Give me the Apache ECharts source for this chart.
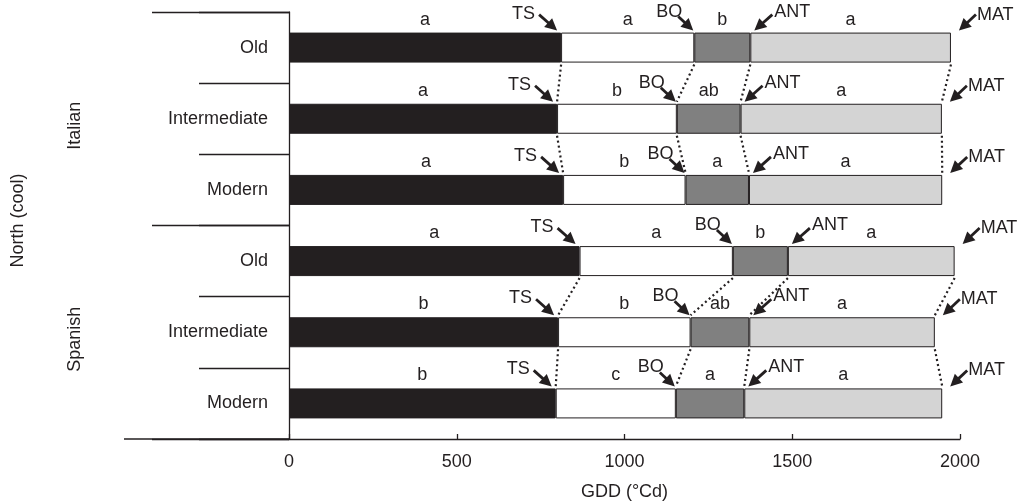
<!DOCTYPE html>
<html>
<head>
<meta charset="utf-8">
<script src="https://cdn.jsdelivr.net/npm/echarts@6/dist/echarts.min.js"></script>
<style>
html,body{margin:0;padding:0;background:#fff;}
#chart{width:1027px;height:501px;}
</style>
</head>
<body>
<div id="chart"></div>
<script>
// ---- data ----
const categories = ['Old', 'Intermediate', 'Modern', 'Old', 'Intermediate', 'Modern'];
const groups = ['Italian', 'Spanish'];
const region = 'North (cool)';
// cumulative GDD (°Cd) at each phenological stage
const tsGDD  = [811, 799, 817, 866, 802, 795];
const boGDD  = [1208, 1156, 1182, 1323, 1197, 1153];
const antGDD = [1375, 1346, 1371, 1487, 1372, 1357];
const matGDD = [1973, 1946, 1947, 1984, 1925, 1947];
// significance letters for each phase
const lettersSowTS  = ['a', 'a', 'a', 'a', 'b', 'b'];
const lettersTSBO   = ['a', 'b', 'b', 'a', 'b', 'c'];
const lettersBOANT  = ['b', 'ab', 'a', 'b', 'ab', 'a'];
const lettersANTMAT = ['a', 'a', 'a', 'a', 'a', 'a'];
const stageNames = ['TS', 'BO', 'ANT', 'MAT'];
const xMin = 0, xMax = 2000, xInterval = 500;

// ---- derived ----
const seg1 = tsGDD.slice();
const seg2 = boGDD.map((v, i) => v - tsGDD[i]);
const seg3 = antGDD.map((v, i) => v - boGDD[i]);
const seg4 = matGDD.map((v, i) => v - antGDD[i]);
const stages = [tsGDD, boGDD, antGDD, matGDD];

const FONT = '"Liberation Sans", Arial, Helvetica, sans-serif';
const INK = '#231f20';
const BAR_W = 30;
const FS = 18;

const chart = echarts.init(document.getElementById('chart'), null, {renderer: 'canvas'});

function letterLabel(arr) {
  return {
    show: true, position: 'top', distance: 4,
    formatter: p => arr[p.dataIndex],
    color: INK, fontSize: FS, fontFamily: FONT
  };
}
function barSeries(name, data, color, letters) {
  return {
    name: name, type: 'bar', stack: 'gdd', barWidth: BAR_W,
    data: data,
    itemStyle: {color: color, borderColor: INK, borderWidth: 1},
    label: letterLabel(letters),
    silent: true, animation: false
  };
}

function arrow(tail, tip) {
  const dx = tip[0] - tail[0], dy = tip[1] - tail[1];
  const len = Math.sqrt(dx * dx + dy * dy);
  const ux = dx / len, uy = dy / len;
  const hl = 12, hw = 6;
  const bx = tip[0] - ux * hl, by = tip[1] - uy * hl;
  const nx = -uy, ny = ux;
  return [
    {type: 'line', shape: {x1: tail[0], y1: tail[1], x2: bx + ux, y2: by + uy},
     style: {stroke: INK, lineWidth: 2.8}},
    {type: 'polygon', shape: {points: [tip, [bx + nx * hw, by + ny * hw], [bx - nx * hw, by - ny * hw]]},
     style: {fill: INK}}
  ];
}

function txt(text, x, y, align) {
  return {type: 'text', style: {text: text, x: x, y: y, align: align, verticalAlign: 'middle',
    fontSize: FS, fontFamily: FONT, fill: INK}};
}

function renderAnnot(params, api) {
  const i = api.value(0);
  const children = [];
  for (let s = 0; s < 4; s++) {
    const p = api.coord([stages[s][i], i]);
    const bx = p[0], top = p[1] - BAR_W / 2, bot = p[1] + BAR_W / 2;
    if (s === 0) {
      children.push(...arrow([bx - 22, top - 18], [bx - 4, top - 2]));
      children.push(txt(stageNames[s], bx - 26, top - 19, 'right'));
    } else if (s === 1) {
      children.push(...arrow([bx - 16, top - 16], [bx - 1, top - 2]));
      children.push(txt(stageNames[s], bx - 12, top - 21, 'right'));
    } else if (s === 2) {
      children.push(...arrow([bx + 22, top - 18], [bx + 4, top - 2]));
      children.push(txt(stageNames[s], bx + 24, top - 21, 'left'));
    } else {
      children.push(...arrow([bx + 25, top - 18], [bx + 8, top - 2]));
      children.push(txt(stageNames[s], bx + 26, top - 18, 'left'));
    }
    // dotted connector to next row in same group
    if (i !== 2 && i < categories.length - 1) {
      const q = api.coord([stages[s][i + 1], i + 1]);
      children.push({type: 'line',
        shape: {x1: bx, y1: bot + 2, x2: q[0], y2: q[1] - BAR_W / 2 - 2},
        style: {stroke: INK, lineWidth: 2.2, lineDash: [2, 3]}});
    }
  }
  return {type: 'group', children: children};
}

const option = {
  animation: false,
  textStyle: {fontFamily: FONT, color: INK},
  grid: {left: 289, right: 67, top: 12, bottom: 62, containLabel: false, outerBoundsMode: 'none'},
  xAxis: {
    type: 'value', min: xMin, max: xMax, interval: xInterval,
    name: 'GDD (°Cd)', nameLocation: 'middle', nameGap: 44,
    nameTextStyle: {fontSize: FS, color: INK, fontFamily: FONT},
    axisLine: {show: true, lineStyle: {color: INK, width: 1.3}},
    axisTick: {show: true, inside: true, length: 5, lineStyle: {color: INK, width: 1.3}},
    axisLabel: {fontSize: FS, color: INK, margin: 14, fontFamily: FONT, formatter: v => String(v)},
    splitLine: {show: false}
  },
  yAxis: [
    {
      type: 'category', inverse: true, data: categories, position: 'left',
      axisLine: {show: true, lineStyle: {color: INK, width: 1.3}},
      axisTick: {show: true, length: 90, lineStyle: {color: INK, width: 1.3}},
      axisLabel: {fontSize: FS, color: INK, margin: 21, fontFamily: FONT},
      splitLine: {show: false}
    },
    {
      type: 'category', inverse: true, data: groups, position: 'left',
      name: region, nameLocation: 'middle', nameGap: 262, nameRotate: 90,
      nameTextStyle: {fontSize: FS, color: INK, fontFamily: FONT, padding: [0, 0, 0, 10]},
      axisLine: {show: false},
      axisTick: {show: true, length: 137, lineStyle: {color: INK, width: 1.3}},
      axisLabel: {fontSize: FS, color: INK, margin: 205, rotate: 90, fontFamily: FONT,
                  padding: [0, 14, 0, 0]},
      splitLine: {show: false}
    }
  ],
  graphic: [
    {type: 'line', shape: {x1: 124, y1: 439, x2: 289, y2: 439},
     style: {stroke: INK, lineWidth: 1.3}, silent: true}
  ],
  series: [
    barSeries('Sowing–TS', seg1, '#231f20', lettersSowTS),
    barSeries('TS–BO', seg2, '#ffffff', lettersTSBO),
    barSeries('BO–ANT', seg3, '#808080', lettersBOANT),
    barSeries('ANT–MAT', seg4, '#d4d4d4', lettersANTMAT),
    {
      type: 'custom', name: 'stages', silent: true, z: 10,
      renderItem: renderAnnot,
      encode: {y: 0, x: 1},
      data: categories.map((c, i) => [i, matGDD[i]]),
      animation: false
    }
  ]
};
chart.setOption(option);
</script>
</body>
</html>
